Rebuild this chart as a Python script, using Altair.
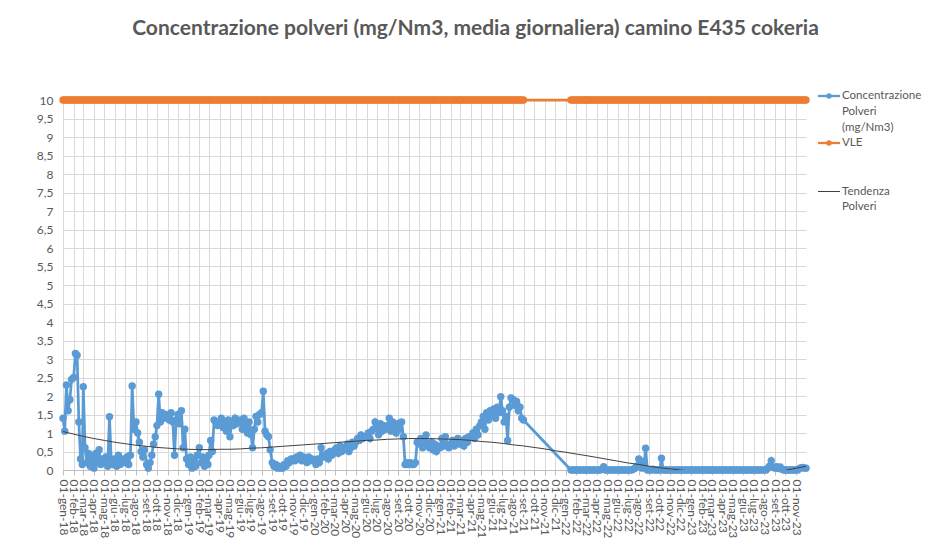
import altair as alt
import pandas as pd

# ---------------- DATI ----------------
MESI = ['gen', 'feb', 'mar', 'apr', 'mag', 'giu', 'lug', 'ago', 'set', 'ott', 'nov', 'dic']
GIORNI = [1, 6, 11, 16, 21, 26]  # campioni letti nel mese

polveri_2018 = [
    [1.40, 1.05, 2.30, 1.60, 1.90, 2.45],  # gen
    [2.50, 3.15, 3.10, 1.30, 0.30, 0.15],  # feb
    [2.25, 0.60, 0.20, 0.45, 0.10, 0.35],  # mar
    [0.05, 0.45, 0.20, 0.55, 0.15, 0.30],  # apr
    [0.20, 0.35, 0.10, 1.44, 0.30, 0.15],  # mag
    [0.30, 0.10, 0.40, 0.15, 0.30, 0.20],  # giu
    [0.20, 0.35, 0.15, 0.40, 2.27, 1.10],  # lug
    [1.30, 1.00, 0.75, 0.50, 0.35, 0.55],  # ago
    [0.15, 0.05, 0.20, 0.40, 0.70, 0.90],  # set
    [1.20, 2.05, 1.30, 1.55, 1.40, 1.50],  # ott
    [1.45, 1.35, 1.55, 1.30, 0.40, 1.35],  # nov
    [1.50, 1.25, 1.60, 0.60, 1.10, 0.30],  # dic
]
polveri_2019 = [
    [0.15, 0.35, 0.05, 0.25, 0.10, 0.40],  # gen
    [0.60, 0.20, 0.35, 0.10, 0.30, 0.15],  # feb
    [0.40, 0.80, 0.50, 1.35, 1.30, 1.20],  # mar
    [1.25, 1.40, 1.15, 1.30, 1.05, 1.35],  # apr
    [0.90, 1.30, 1.20, 1.40, 1.25, 1.30],  # mag
    [1.35, 1.10, 1.40, 1.25, 1.00, 1.30],  # giu
    [0.95, 0.60, 1.10, 1.45, 1.30, 1.50],  # lug
    [1.55, 2.13, 1.05, 0.95, 0.90, 0.55],  # ago
    [0.20, 0.10, 0.15, 0.05, 0.10, 0.05],  # set
    [0.05, 0.15, 0.10, 0.25, 0.20, 0.30],  # ott
    [0.30, 0.25, 0.35, 0.30, 0.40, 0.25],  # nov
    [0.35, 0.30, 0.20, 0.35, 0.25, 0.30],  # dic
]
polveri_2020 = [
    [0.25, 0.15, 0.30, 0.20, 0.60, 0.35],  # gen
    [0.35, 0.45, 0.30, 0.50, 0.40, 0.45],  # feb
    [0.55, 0.60, 0.45, 0.65, 0.50, 0.60],  # mar
    [0.55, 0.70, 0.50, 0.60, 0.75, 0.65],  # apr
    [0.75, 0.85, 0.80, 0.95, 0.85, 0.90],  # mag
    [0.90, 1.00, 0.85, 1.05, 1.10, 1.30],  # giu
    [1.15, 0.95, 1.25, 1.05, 1.20, 1.10],  # lug
    [1.20, 1.40, 1.05, 1.30, 1.15, 1.00],  # ago
    [1.25, 1.10, 1.30, 0.90, 0.15, 0.20],  # set
    [0.15, 0.20, 0.15, 0.15, 0.20, 0.75],  # ott
    [0.70, 0.85, 0.60, 0.75, 0.95, 0.70],  # nov
    [0.60, 0.75, 0.55, 0.70, 0.50, 0.65],  # dic
]
polveri_2021 = [
    [0.60, 0.85, 0.65, 0.90, 0.70, 0.60],  # gen
    [0.70, 0.80, 0.65, 0.75, 0.85, 0.70],  # feb
    [0.70, 0.80, 0.65, 0.85, 0.75, 0.90],  # mar
    [0.90, 1.00, 0.85, 1.10, 0.95, 1.20],  # apr
    [1.30, 1.45, 1.10, 1.55, 1.35, 1.60],  # mag
    [1.50, 1.65, 1.40, 1.70, 1.55, 1.98],  # giu
    [1.60, 1.30, 1.45, 0.80, 1.70, 1.95],  # lug
    [1.90, 1.75, 1.85, 1.60, 1.70, 1.40],  # ago
]
ultimo_2021 = ("2021-08-31", 1.35)
polveri_2022 = [
    [0.00, 0.00, 0.00],                    # gen (dal 16)
    [0.00, 0.00, 0.00, 0.00, 0.00, 0.00],  # feb
    [0.00, 0.00, 0.00, 0.00, 0.00, 0.00],  # mar
    [0.00, 0.00, 0.00, 0.02, 0.09, 0.00],  # apr
    [0.00, 0.00, 0.00, 0.00, 0.00, 0.00],  # mag
    [0.00, 0.00, 0.00, 0.00, 0.00, 0.00],  # giu
    [0.00, 0.00, 0.00, 0.02, 0.05, 0.10],  # lug
    [0.30, 0.25, 0.05, 0.10, 0.59, 0.00],  # ago
    [0.00, 0.00, 0.02, 0.00, 0.00, 0.00],  # set
    [0.00, 0.32, 0.00, 0.00, 0.00, 0.00],  # ott
    [0.00, 0.00, 0.00, 0.00, 0.00, 0.00],  # nov
    [0.00, 0.00, 0.00, 0.00, 0.00, 0.00],  # dic
]
polveri_2023 = [
    [0.00, 0.00, 0.00, 0.00, 0.00, 0.00],  # gen
    [0.00, 0.00, 0.00, 0.00, 0.00, 0.00],  # feb
    [0.00, 0.00, 0.00, 0.00, 0.00, 0.00],  # mar
    [0.00, 0.00, 0.00, 0.00, 0.00, 0.00],  # apr
    [0.00, 0.00, 0.00, 0.00, 0.00, 0.00],  # mag
    [0.00, 0.00, 0.00, 0.00, 0.00, 0.00],  # giu
    [0.00, 0.00, 0.00, 0.00, 0.00, 0.00],  # lug
    [0.00, 0.00, 0.05, 0.10, 0.25, 0.08],  # ago
    [0.05, 0.09, 0.04, 0.08, 0.02, 0.00],  # set
    [0.00, 0.00, 0.00, 0.00, 0.00, 0.00],  # ott
    [0.00, 0.00, 0.04, 0.06, 0.07, 0.05],  # nov
]
ultimo_2023 = ("2023-11-30", 0.05)

VLE = 10

# tendenza polinomiale (valore al primo giorno di ogni mese, gen-18 ... nov-23)
tendenza = [
    1.04, 0.97, 0.91, 0.85, 0.80, 0.75, 0.71, 0.67, 0.64, 0.61, 0.59, 0.57,
    0.56, 0.55, 0.55, 0.56, 0.56, 0.57, 0.59, 0.60, 0.62, 0.64, 0.66, 0.68,
    0.70, 0.72, 0.74, 0.76, 0.78, 0.80, 0.81, 0.83, 0.84, 0.85, 0.85, 0.85,
    0.84, 0.83, 0.82, 0.80, 0.77, 0.75, 0.72, 0.68, 0.65, 0.61, 0.57, 0.52,
    0.48, 0.43, 0.39, 0.34, 0.29, 0.24, 0.19, 0.15, 0.10, 0.06, 0.03, 0.00,
    -0.03, -0.05, -0.07, -0.08, -0.09, -0.09, -0.08, -0.07, -0.05, -0.01, 0.05,
]
tendenza_fine = ("2023-11-30", 0.10)

# ---------------- COSTRUZIONE TABELLE ----------------
rows = []
for year, months in [(2018, polveri_2018), (2019, polveri_2019),
                     (2020, polveri_2020), (2021, polveri_2021)]:
    for i, vals in enumerate(months):
        days = GIORNI[len(GIORNI) - len(vals):]
        for d, v in zip(days, vals):
            rows.append((f"{year}-{i + 1:02d}-{d:02d}", v))
rows.append(ultimo_2021)
for year, months in [(2022, polveri_2022), (2023, polveri_2023)]:
    for i, vals in enumerate(months):
        days = GIORNI[len(GIORNI) - len(vals):]
        for d, v in zip(days, vals):
            rows.append((f"{year}-{i + 1:02d}-{d:02d}", v))
rows.append(ultimo_2023)

df = pd.DataFrame(rows, columns=["data", "polveri"])
df["vle"] = VLE

trend_rows = []
for k, v in enumerate(tendenza):
    y = 2018 + k // 12
    m = k % 12 + 1
    trend_rows.append((f"{y}-{m:02d}-01", v))
trend_rows.append(tendenza_fine)
dft = pd.DataFrame(trend_rows, columns=["data", "tendenza"])

uno = pd.DataFrame({"k": [0]})  # una riga per gli elementi della legenda

# ---------------- STILE ----------------
BLU = "#5B9BD5"
ARANCIO = "#ED7D31"
GRIGIO_TESTO = "#595959"
GRIGLIA = "#D9D9D9"
TREND = "#404040"
FONT = "Lato"

W, H = 743, 370

tick_values = [alt.DateTime(year=2018 + k // 12, month=k % 12 + 1, date=1, utc=True)
               for k in range(71)]

x_scale = alt.Scale(type="utc",
                    domain=[alt.DateTime(year=2018, month=1, date=1, utc=True),
                            alt.DateTime(year=2023, month=11, date=30, utc=True)])

mesi_js = "[" + ",".join(f"'{m}'" for m in MESI) + "]"
x_axis = alt.Axis(
    values=tick_values,
    labelExpr=f"'01-' + {mesi_js}[utcmonth(datum.value)] + '-' + utcFormat(datum.value, '%y')",
    labelAngle=90, labelAlign="left", labelBaseline="middle",
    labelOverlap=False, labelBound=False, labelFlush=False,
    labelFontSize=12, labelColor=GRIGIO_TESTO, labelFont=FONT, labelPadding=4,
    grid=True, gridColor=GRIGLIA, gridWidth=1,
    domain=True, domainColor="#BFBFBF", ticks=True, tickColor="#BFBFBF", tickSize=5,
    title=None,
)
y_axis = alt.Axis(
    values=[i * 0.5 for i in range(21)],
    format=".1~f",
    labelExpr="replace(datum.label, '.', ',')",
    labelFontSize=12, labelColor=GRIGIO_TESTO, labelFont=FONT, labelPadding=10,
    grid=True, gridColor=GRIGLIA, gridWidth=1,
    domain=False, ticks=False, title=None,
)
y_scale = alt.Scale(domain=[0, 10], nice=False)

X = alt.X("data:T", scale=x_scale, axis=x_axis)
def Y(field):
    return alt.Y(f"{field}:Q", scale=y_scale, axis=y_axis)

base = alt.Chart(df)

vle_line = base.mark_line(color=ARANCIO, strokeWidth=2.75).encode(x=X, y=Y("vle"))
vle_pts = base.mark_circle(color=ARANCIO, size=55, opacity=1).encode(x=X, y=Y("vle"))

pol_line = base.mark_line(color=BLU, strokeWidth=2.75).encode(x=X, y=Y("polveri"))
pol_pts = base.mark_circle(color=BLU, size=55, opacity=1).encode(x=X, y=Y("polveri"))

trend = alt.Chart(dft).mark_line(color=TREND, strokeWidth=1, clip=True).encode(
    x=X, y=Y("tendenza"))

# ---------------- LEGENDA ----------------
LX0, LX1, LXM, LXT = 755, 777, 766, 779

def riga(col, ypos, width):
    return alt.Chart(uno).mark_rule(color=col, strokeWidth=width).encode(
        x=alt.value(LX0), x2=alt.value(LX1), y=alt.value(ypos))

def punto(col, ypos):
    return alt.Chart(uno).mark_circle(color=col, size=30, opacity=1).encode(
        x=alt.value(LXM), y=alt.value(ypos))

def testo(t, ypos):
    return alt.Chart(uno).mark_text(align="left", baseline="middle", fontSize=11.5,
                                    font=FONT, color=GRIGIO_TESTO).encode(
        x=alt.value(LXT), y=alt.value(ypos), text=alt.value(t))

legenda = [riga(BLU, -4, 2.25), punto(BLU, -4),
           testo("Concentrazione", -4), testo("Polveri", 12), testo("(mg/Nm3)", 27.5),
           riga(ARANCIO, 43, 2.25), punto(ARANCIO, 43), testo("VLE", 43),
           riga(TREND, 91.5, 1), testo("Tendenza", 91.5), testo("Polveri", 106.5)]

chart = alt.layer(vle_line, vle_pts, pol_line, pol_pts, trend, *legenda).properties(
    width=W, height=H,
    title=alt.TitleParams(
        text="Concentrazione polveri (mg/Nm3, media giornaliera) camino E435 cokeria",
        font=FONT, fontSize=21, fontWeight="bold", color=GRIGIO_TESTO,
        anchor="middle", dx=41, frame="group", offset=51,
    ),
    autosize=alt.AutoSizeParams(type="none"),
    padding={"left": 55, "top": 92, "right": 117, "bottom": 76},
    background="white",
).configure_view(stroke=None)

chart.save("out.html", embed_options={"renderer": "svg", "actions": False})
